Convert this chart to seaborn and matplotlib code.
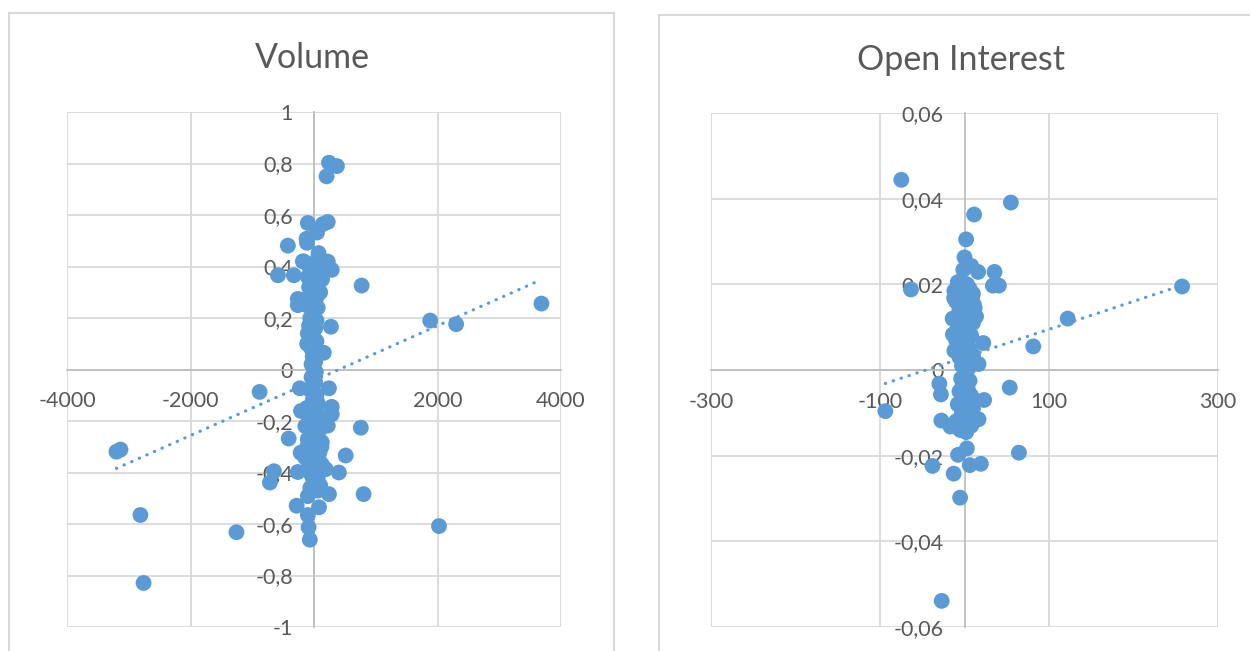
import numpy as np
import pandas as pd
import matplotlib
matplotlib.use("Agg")
import matplotlib.pyplot as plt
from matplotlib.patches import Rectangle
from matplotlib.ticker import FuncFormatter, FixedLocator
import seaborn as sns

# ---- Volume: change in volume vs. return ----
vol_x = [
    -3199, -3134, -2811, -2760, -1256, -881, -714, -649, -584, -423, -326, -410,
    771, 758, 803, 513, 403, 1882, 2302, 3683, 2024,
    242, 371, 203, 223, 145, -100, 48, -120, -113, 74, -165, 223, 287,
    -262, -262, 274, 158, 242, -229, 287, 287, 223, -210, -216, -262, 242,
    -100, -281, 81, -100, -88, -68, 190, 126,
    -180, 60, -40, 150, 200, -60, 100, -100, 20, 130, -30, 60, -80, 100, 0,
    -60, 40, -170, -120, -40, 60, 0, -60, 40, -80, 20, -100, -20, -110, 40,
    -40, -20, 20, -40, 0, 30,
    -40, 20, -60, 40, -20, 60, -120, 0, 80, -80, 30, -140, 100, -30, 50,
    -100, 10, 120, -60, 40, -150, 80, -10, 130, -90, 30, -40, 60, 0, -60, 100,
    -20, 40, -80, 10, 70, -50, 20, -110, 90, 0, -30, 50, -70, 30, -10, 60,
]
vol_y = [
    -0.319, -0.311, -0.565, -0.829, -0.632, -0.087, -0.439, -0.395, 0.366, 0.481, 0.366, -0.268,
    0.326, -0.226, -0.484, -0.334, -0.400, 0.190, 0.176, 0.256, -0.608,
    0.803, 0.790, 0.750, 0.573, 0.565, 0.569, 0.532, 0.508, 0.492, 0.452, 0.419, 0.419, 0.387,
    0.274, 0.250, 0.166, 0.065, -0.073, -0.073, -0.145, -0.174, -0.218, -0.161, -0.323, -0.398, -0.484,
    -0.492, -0.529, -0.535, -0.565, -0.613, -0.661, -0.387, -0.282,
    0.42, 0.43, 0.40, 0.41, 0.39, 0.39, 0.37, 0.36, 0.36, 0.35, 0.34, 0.33, 0.32, 0.30, 0.30,
    0.29, 0.28, 0.27, 0.25, 0.25, 0.24, 0.22, 0.20, 0.19, 0.17, 0.16, 0.14, 0.13, 0.10, 0.11,
    0.08, 0.05, 0.03, 0.02, 0.00, -0.01,
    -0.03, -0.05, -0.08, -0.10, -0.12, -0.13, -0.15, -0.17, -0.18, -0.20, -0.21, -0.22, -0.23, -0.25, -0.26,
    -0.27, -0.29, -0.30, -0.31, -0.33, -0.34, -0.35, -0.36, -0.37, -0.38, -0.39, -0.41, -0.42, -0.44, -0.46, -0.45,
    -0.14, -0.16, -0.19, -0.22, -0.24, -0.26, -0.28, -0.30, -0.32, -0.33, -0.35, -0.37, -0.38, -0.40, -0.43, -0.47,
]

# ---- Open Interest: change in open interest vs. return ----
oi_x = [
    -74.8, -63.4, -93.7, 54.9, 11.4, 1.9, 0.0, 16.1, 35.5, 33.6, 40.7, 257.5, 122.1, 81.4,
    22.2, 16.6, 53.5, 23.2, -29.8, -27.9, -27.4, -16.6, 16.6, 64.4, 2.8, -7.6, 6.2, 19.4,
    -37.9, -12.8, -5.2, -27.0, -13.7, -12.3, 10.0, 11.0, 13.7, -6.6, -1.4, 8.0, -1.9, 5.0,
    -8, 3, -12, 6, -4, 9, -10, 2, 12, -6, 5, -14, 0, 10, -8, 4, -2, 8, -10, 2, -5, 6, -12,
    0, 10, -6, 3, -3, 5,
    0, -4, 6, -2, 4, -6, 8, 0, -8, 3, 10, -3, 6, -10, 0, 8, -5, 2,
]
oi_y = [
    0.0444, 0.0188, -0.0096, 0.0391, 0.0363, 0.0305, 0.0263, 0.0229, 0.0229, 0.0197, 0.0197, 0.0195, 0.0120, 0.0055,
    0.0063, 0.0014, -0.0041, -0.0070, -0.0032, -0.0057, -0.0118, -0.0132, -0.0115, -0.0193, -0.0183, -0.0198, -0.0222, -0.0219,
    -0.0224, -0.0242, -0.0298, -0.0539, 0.0083, 0.0168, 0.0178, 0.0153, 0.0125, 0.0205, 0.0234, 0.0243, -0.0135, -0.0130,
    0.0205, 0.0200, 0.0185, 0.0190, 0.0175, 0.0170, 0.0160, 0.0155, 0.0145, 0.0140, 0.0130, 0.0120, 0.0115, 0.0110, 0.0100,
    0.0095, 0.0085, 0.0080, 0.0070, 0.0065, 0.0055, 0.0050, 0.0045,
    0.0040, 0.0035, 0.0030, 0.0020, 0.0010, 0.0005,
    -0.0010, -0.0020, -0.0025, -0.0035, -0.0045, -0.0050, -0.0060, -0.0070, -0.0080, -0.0085, -0.0090, -0.0100, -0.0110,
    -0.0120, -0.0125, -0.0130, -0.0140, -0.0145,
]

vol_xticks = [-4000, -2000, 0, 2000, 4000]
vol_yticks = [-1, -0.8, -0.6, -0.4, -0.2, 0, 0.2, 0.4, 0.6, 0.8, 1]
oi_xticks = [-300, -100, 100, 300]
oi_yticks = [-0.06, -0.04, -0.02, 0, 0.02, 0.04, 0.06]

BLUE = "#5B9BD5"
GRID = "#D9D9D9"
AXIS = "#BFBFBF"
TEXT = "#595959"

sns.set_theme(style="white")
plt.rcParams["font.family"] = ["Lato", "DejaVu Sans"]

W, H = 1250, 651
fig = plt.figure(figsize=(W / 100, H / 100), dpi=100)


def px_axes(x0, y0, x1, y1):
    return fig.add_axes([x0 / W, 1 - y1 / H, (x1 - x0) / W, (y1 - y0) / H])


def comma_fmt(decimals):
    def f(v, pos):
        if abs(v) < 1e-12:
            return "0"
        s = f"{v:.{decimals}f}".rstrip("0").rstrip(".")
        return s.replace(".", ",")
    return FuncFormatter(f)


def style_axes(ax, xticks, yticks, xlim, ylim, ydec):
    ax.set_xlim(*xlim)
    ax.set_ylim(*ylim)
    ax.xaxis.set_major_locator(FixedLocator(xticks))
    ax.yaxis.set_major_locator(FixedLocator(yticks))
    ax.xaxis.set_major_formatter(FuncFormatter(lambda v, p: f"{v:.0f}"))
    ax.yaxis.set_major_formatter(comma_fmt(ydec))
    ax.grid(True, color=GRID, lw=1.3)
    ax.set_axisbelow(True)
    for side in ("top", "right"):
        ax.spines[side].set_visible(False)
    ax.spines["left"].set_position(("data", 0))
    ax.spines["bottom"].set_position(("data", 0))
    for side in ("left", "bottom"):
        ax.spines[side].set_color(AXIS)
        ax.spines[side].set_linewidth(1.3)
        ax.spines[side].set_zorder(0.6)
    ax.tick_params(axis="both", length=0, labelsize=15.5, labelcolor=TEXT)
    ax.tick_params(axis="x", pad=15.5)
    ax.tick_params(axis="y", pad=15)
    ax.set_xlabel("")
    ax.set_ylabel("")
    ax.set_facecolor("white")
    ax.patch.set_alpha(0)


def draw_panel(ax, x, y):
    df = pd.DataFrame({"x": x, "y": y})
    sns.scatterplot(data=df, x="x", y="y", ax=ax, color=BLUE, s=130,
                    edgecolor="none", linewidth=0, zorder=3)
    sns.regplot(data=df, x="x", y="y", ax=ax, scatter=False, ci=None,
                truncate=True,
                line_kws=dict(color=BLUE, lw=2.3, linestyle=(0, (0.1, 2.5)),
                              dash_capstyle="round", zorder=4))


# chart borders
fig.patches.append(Rectangle((9 / W, -0.05), (614 - 9) / W, 1 - 13 / H + 0.05,
                             transform=fig.transFigure, fill=False,
                             edgecolor=GRID, lw=1.5))
fig.patches.append(Rectangle((659 / W, -0.05), (1260 - 659) / W, 1 - 15 / H + 0.05,
                             transform=fig.transFigure, fill=False,
                             edgecolor=GRID, lw=1.5))

ax1 = px_axes(67, 112, 561, 627)
draw_panel(ax1, vol_x, vol_y)
style_axes(ax1, vol_xticks, vol_yticks, (-4000, 4000), (-1, 1), 1)

ax2 = px_axes(711, 113, 1218, 627)
draw_panel(ax2, oi_x, oi_y)
style_axes(ax2, oi_xticks, oi_yticks, (-300, 300), (-0.06, 0.06), 2)

fig.text(312 / W, 1 - 58 / H, "Volume", ha="center", va="center",
         fontsize=24.5, color=TEXT)
fig.text(961 / W, 1 - 60 / H, "Open Interest", ha="center", va="center",
         fontsize=24.5, color=TEXT)

fig.savefig("out.png", dpi=100, facecolor="white")
